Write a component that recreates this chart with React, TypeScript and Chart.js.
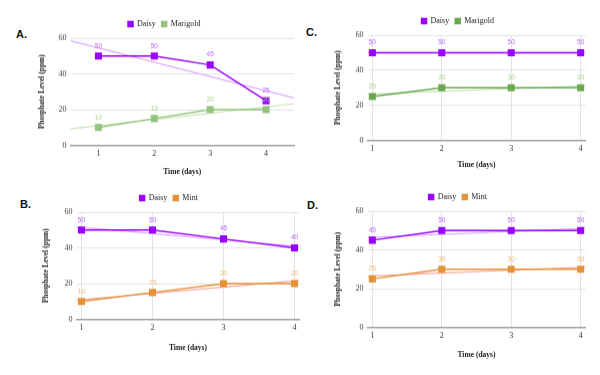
import React, { useEffect, useRef } from "react";
import { Chart, registerables } from "chart.js";
Chart.register(...registerables);

const days = [1, 2, 3, 4];
const yTickValues = [0, 20, 40, 60];
const daisyA = [50, 50, 45, 25];
const marigoldA = [10, 15, 20, 20];
const daisyB = [50, 50, 45, 40];
const mintB = [10, 15, 20, 20];
const daisyC = [50, 50, 50, 50];
const marigoldC = [25, 30, 30, 30];
const daisyD = [45, 50, 50, 50];
const mintD = [25, 30, 30, 30];

const PURPLE = "#9900ff";
const PURPLE_LABEL = "#b566ff";
const PURPLE_TREND = "#dcaaff";
const GREEN_A = "#93c47d";
const GREEN_C = "#6aa84f";
const GREEN_LABEL = "#a9d18e";
const GREEN_TREND = "#c6e2b8";
const ORANGE = "#e69138";
const ORANGE_LABEL = "#f0b46e";
const ORANGE_TREND = "#f5aaa4";

type Series = { name: string; values: number[]; color: string; labelColor: string; trendColor: string };
type Panel = {
  tag: string;
  tagX: number;
  tagY: number;
  series: Series[];
  area: { l: number; r: number; t: number; b: number };
  xMin: number;
  xMax: number;
  xGrid: boolean;
  yTitleX: number;
  xTitleY: number;
  legendCX: number;
  canvasTop: number;
};

const panels: Panel[] = [
  {
    tag: "A.", tagX: 16, tagY: 28,
    series: [
      { name: "Daisy", values: daisyA, color: PURPLE, labelColor: PURPLE_LABEL, trendColor: PURPLE_TREND },
      { name: "Marigold", values: marigoldA, color: GREEN_A, labelColor: GREEN_LABEL, trendColor: GREEN_TREND },
    ],
    area: { l: 70, r: 294, t: 38, b: 145 },
    xMin: 0.5, xMax: 4.5, xGrid: false,
    yTitleX: 42, xTitleY: 172, legendCX: 166, canvasTop: 14,
  },
  {
    tag: "B.", tagX: 20, tagY: 198,
    series: [
      { name: "Daisy", values: daisyB, color: PURPLE, labelColor: PURPLE_LABEL, trendColor: PURPLE_TREND },
      { name: "Mint", values: mintB, color: ORANGE, labelColor: ORANGE_LABEL, trendColor: ORANGE_TREND },
    ],
    area: { l: 76, r: 299, t: 212, b: 319 },
    xMin: 0.93, xMax: 4.07, xGrid: true,
    yTitleX: 46, xTitleY: 348, legendCX: 172, canvasTop: 188,
  },
  {
    tag: "C.", tagX: 306, tagY: 26,
    series: [
      { name: "Daisy", values: daisyC, color: PURPLE, labelColor: PURPLE_LABEL, trendColor: PURPLE_TREND },
      { name: "Marigold", values: marigoldC, color: GREEN_C, labelColor: GREEN_LABEL, trendColor: GREEN_TREND },
    ],
    area: { l: 367, r: 585, t: 35, b: 140 },
    xMin: 0.93, xMax: 4.07, xGrid: true,
    yTitleX: 338, xTitleY: 165, legendCX: 461, canvasTop: 11,
  },
  {
    tag: "D.", tagX: 307, tagY: 199,
    series: [
      { name: "Daisy", values: daisyD, color: PURPLE, labelColor: PURPLE_LABEL, trendColor: PURPLE_TREND },
      { name: "Mint", values: mintD, color: ORANGE, labelColor: ORANGE_LABEL, trendColor: ORANGE_TREND },
    ],
    area: { l: 367, r: 585, t: 211, b: 327 },
    xMin: 0.93, xMax: 4.07, xGrid: true,
    yTitleX: 338, xTitleY: 355, legendCX: 461, canvasTop: 187,
  },
];

function linearFit(xs: number[], ys: number[]) {
  const n = xs.length;
  const mx = xs.reduce((a, b) => a + b, 0) / n;
  const my = ys.reduce((a, b) => a + b, 0) / n;
  let num = 0;
  let den = 0;
  for (let i = 0; i < n; i++) {
    num += (xs[i] - mx) * (ys[i] - my);
    den += (xs[i] - mx) * (xs[i] - mx);
  }
  const slope = den === 0 ? 0 : num / den;
  return { slope, intercept: my - slope * mx };
}

const valueLabels = {
  id: "valueLabels",
  afterDatasetsDraw(chart: any) {
    const ctx = chart.ctx;
    ctx.save();
    ctx.font = "6.5px 'Liberation Sans', Arial, sans-serif";
    ctx.textAlign = "center";
    ctx.textBaseline = "middle";
    chart.data.datasets.forEach((ds: any, i: number) => {
      if (!ds.valueLabelColor) return;
      const meta = chart.getDatasetMeta(i);
      ctx.fillStyle = ds.valueLabelColor;
      meta.data.forEach((pt: any, j: number) => {
        ctx.fillText(String(ds.data[j].y), pt.x, pt.y - 10);
      });
    });
    ctx.restore();
  },
};

const SERIF = "'Liberation Serif', 'Times New Roman', serif";

function PanelChart({ p }: { p: Panel }) {
  const ref = useRef<HTMLCanvasElement | null>(null);
  const canvasLeft = p.yTitleX - 4.5 - 4;
  const canvasRight = 2 * p.legendCX - canvasLeft;
  const canvasBottom = p.xTitleY + 4.5 + 4;
  const width = canvasRight - canvasLeft;
  const height = canvasBottom - p.canvasTop;
  const yAxisWidth = p.area.l - canvasLeft;
  const xAxisHeight = canvasBottom - p.area.b;
  const padRight = canvasRight - p.area.r;

  useEffect(() => {
    if (!ref.current) return;
    const datasets: any[] = [];
    p.series.forEach((s) => {
      datasets.push({
        label: s.name,
        data: days.map((d, i) => ({ x: d, y: s.values[i] })),
        borderColor: s.color,
        backgroundColor: s.color,
        borderWidth: 1.5,
        pointStyle: "rect",
        pointRadius: 5,
        pointBorderWidth: 0,
        pointBackgroundColor: s.color,
        valueLabelColor: s.labelColor,
        order: 1,
      });
    });
    p.series.forEach((s) => {
      const fit = linearFit(days, s.values);
      datasets.push({
        label: s.name + " trend",
        isTrend: true,
        data: [
          { x: p.xMin, y: fit.intercept + fit.slope * p.xMin },
          { x: p.xMax, y: fit.intercept + fit.slope * p.xMax },
        ],
        borderColor: s.trendColor,
        borderWidth: 1.2,
        pointRadius: 0,
        order: 2,
      });
    });
    const chart = new Chart(ref.current, {
      type: "line",
      data: { datasets },
      plugins: [valueLabels],
      options: {
        animation: false,
        responsive: false,
        maintainAspectRatio: false,
        layout: { padding: { top: 0, right: padRight, left: 0, bottom: 0 } },
        plugins: {
          tooltip: { enabled: false },
          legend: {
            position: "top",
            labels: {
              filter: (item: any, data: any) => !data.datasets[item.datasetIndex].isTrend,
              boxWidth: 5,
              boxHeight: 5,
              padding: 6,
              color: "#222",
              font: { family: SERIF, size: 8 },
            },
          },
        },
        scales: {
          x: {
            type: "linear",
            min: p.xMin,
            max: p.xMax,
            afterFit: (s: any) => { s.height = xAxisHeight; },
            afterBuildTicks: (s: any) => { s.ticks = days.map((d) => ({ value: d })); },
            ticks: { color: "#333", padding: 4, font: { family: SERIF, size: 8 } },
            grid: {
              display: p.xGrid,
              drawTicks: false,
              color: "#e3e3e3",
            },
            border: { display: true, color: "#9e9e9e", width: 1.5 },
            title: { display: true, text: "Time (days)", color: "#222", padding: { top: 4, bottom: 4 }, font: { family: SERIF, size: 7.5, weight: "bold" } },
          },
          y: {
            min: 0,
            max: 60,
            afterFit: (s: any) => { s.width = yAxisWidth; },
            afterBuildTicks: (s: any) => { s.ticks = yTickValues.map((v) => ({ value: v })); },
            ticks: { color: "#444", padding: 4, font: { family: SERIF, size: 8 } },
            grid: { drawTicks: false, color: "#e3e3e3" },
            border: { display: false },
            title: { display: true, text: "Phosphate Level (ppm)", color: "#222", padding: { top: 4, bottom: 4 }, font: { family: SERIF, size: 7.5, weight: "bold" } },
          },
        },
      } as any,
    });
    return () => chart.destroy();
  }, []);

  return (
    <>
      <div style={{ position: "absolute", left: canvasLeft, top: p.canvasTop, width, height }}>
        <canvas ref={ref} width={width} height={height} style={{ width, height, display: "block" }} />
      </div>
      <div
        style={{
          position: "absolute",
          left: p.tagX,
          top: p.tagY,
          fontFamily: "'Liberation Sans', Arial, sans-serif",
          fontWeight: "bold",
          fontSize: 11,
          lineHeight: "12px",
          color: "#111",
        }}
      >
        {p.tag}
      </div>
    </>
  );
}

export default function App() {
  return (
    <div style={{ position: "fixed", left: 0, top: 0, width: 600, height: 375, background: "#fff", overflow: "hidden" }}>
      {panels.map((p) => (
        <PanelChart key={p.tag} p={p} />
      ))}
    </div>
  );
}
